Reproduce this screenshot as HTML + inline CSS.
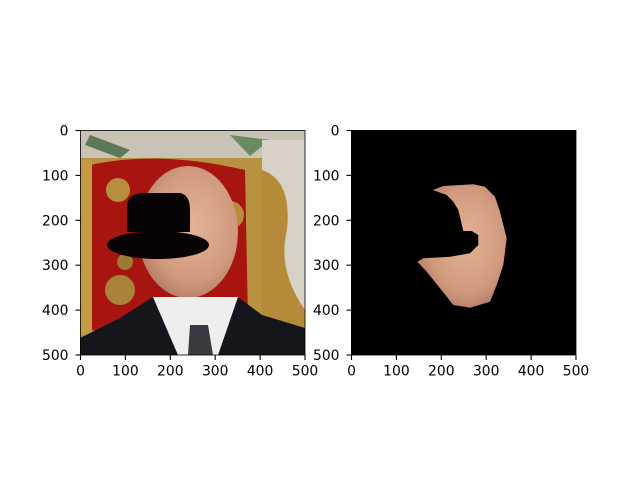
<!DOCTYPE html>
<html><head><meta charset="utf-8"><style>
body{margin:0;background:#fff}
svg text{font-family:"DejaVu Sans","Liberation Sans",sans-serif;font-size:13.9px;fill:#000}
</style></head><body>
<svg width="640" height="480" xmlns="http://www.w3.org/2000/svg">
<defs>
<radialGradient id="skin" cx="0.55" cy="0.45" r="0.6">
<stop offset="0" stop-color="#e4b295"/><stop offset="0.7" stop-color="#d19a7e"/><stop offset="1" stop-color="#b27a62"/></radialGradient>
<clipPath id="clipL"><rect x="80" y="130" width="225" height="225"/></clipPath>
</defs>
<g id="left">
<g clip-path="url(#clipL)">
<rect x="80" y="130" width="225" height="225" fill="#b8923e"/>
<rect x="80" y="130" width="225" height="28" fill="#c9c2b6"/>
<polygon points="90,135 130,150 120,158 85,145" fill="#5b7a55"/>
<polygon points="230,135 270,140 250,156" fill="#6a8a5f"/>
<rect x="262" y="140" width="43" height="200" fill="#d8d1c6"/>
<path d="M262,170 q30,10 25,60 q-10,40 18,80 L305,340 L262,340Z" fill="#b58b3a"/>
<path d="M90,165 Q160,150 245,170 L248,320 Q170,340 90,330Z" fill="#a8140f"/>
<path d="M80,160 L92,160 L92,335 L80,335Z" fill="#c49a42"/>
<circle cx="118" cy="190" r="12" fill="#b88d3c"/>
<circle cx="230" cy="215" r="14" fill="#b88d3c"/>
<circle cx="120" cy="290" r="15" fill="#a9833a"/>
<circle cx="125" cy="262" r="8" fill="#9d7b34"/>
<ellipse cx="188" cy="232" rx="50" ry="66" fill="url(#skin)"/>
<polygon points="80,338 120,318 153,297 178,355 80,355" fill="#15151c"/>
<polygon points="238,297 262,315 305,328 305,355 218,355" fill="#15151c"/>
<polygon points="153,297 238,297 218,355 178,355" fill="#eeeeee"/>
<polygon points="190,325 208,325 213,355 188,355" fill="#3a3a40"/>
<path d="M127,232 L127,205 Q128,193 145,193 L180,193 Q190,195 190,210 L190,232Z" fill="#080406"/>
<ellipse cx="158" cy="245" rx="51" ry="14" fill="#080406"/>
</g>
<rect x="80.5" y="130.5" width="224.5" height="224.5" fill="none" stroke="#000" stroke-width="0.8"/>
</g>
<g id="right">
<rect x="351" y="130" width="225" height="225" fill="#000"/>
<polygon fill="url(#skin)" points="432.7,190 443.3,186 473.3,184.3 485,186.7 495,196.7 500,211.7 506.7,238.3 503.3,265 496.7,285 490,301.7 470,307.7 453.3,305 440,288.3 426.7,271.7 417.3,261.7 423.3,258.3 450,256.7 470,253.3 478.3,245 478.3,235 471.7,231 463.3,231 458.3,210 453.3,201.7 446.7,195"/>
<rect x="351.5" y="130.5" width="224.5" height="224.5" fill="none" stroke="#000" stroke-width="0.8"/>
</g>
<g id="ticks"></g>
</svg>
<script>
const tickValues=[0,100,200,300,400,500];
const tickLabels=["0","100","200","300","400","500"];
const axesX=[80.5,351.5];
const g=document.getElementById('ticks');
const ns='http://www.w3.org/2000/svg';
function sx(x0,v){return x0+v*224.5/500;}
function sy(v){return 130.5+v*224.5/500;}
axesX.forEach(function(x0){
 tickValues.forEach(function(v,i){
  let l=document.createElementNS(ns,'line');
  l.setAttribute('x1',sx(x0,v));l.setAttribute('x2',sx(x0,v));l.setAttribute('y1',355);l.setAttribute('y2',360);
  l.setAttribute('stroke','#000');l.setAttribute('stroke-width','1.1');
  
  
  g.appendChild(l);
  let t=document.createElementNS(ns,'text');
  t.setAttribute('x',sx(x0,v));t.setAttribute('y',375.5);t.setAttribute('text-anchor','middle');
  t.setAttribute('font-size','13.9');
  t.textContent=tickLabels[i];
  
  
  g.appendChild(t);
  let l2=document.createElementNS(ns,'line');
  l2.setAttribute('x1',x0-5);l2.setAttribute('x2',x0);l2.setAttribute('y1',sy(v));l2.setAttribute('y2',sy(v));
  l2.setAttribute('stroke','#000');l2.setAttribute('stroke-width','1.1');
  
  
  g.appendChild(l2);
  let t2=document.createElementNS(ns,'text');
  t2.setAttribute('x',x0-12);t2.setAttribute('y',sy(v)+5);t2.setAttribute('text-anchor','end');
  t2.setAttribute('font-size','13.9');
  t2.textContent=tickLabels[i];
  
  
  g.appendChild(t2);
 });
});
</script>
</body></html>
